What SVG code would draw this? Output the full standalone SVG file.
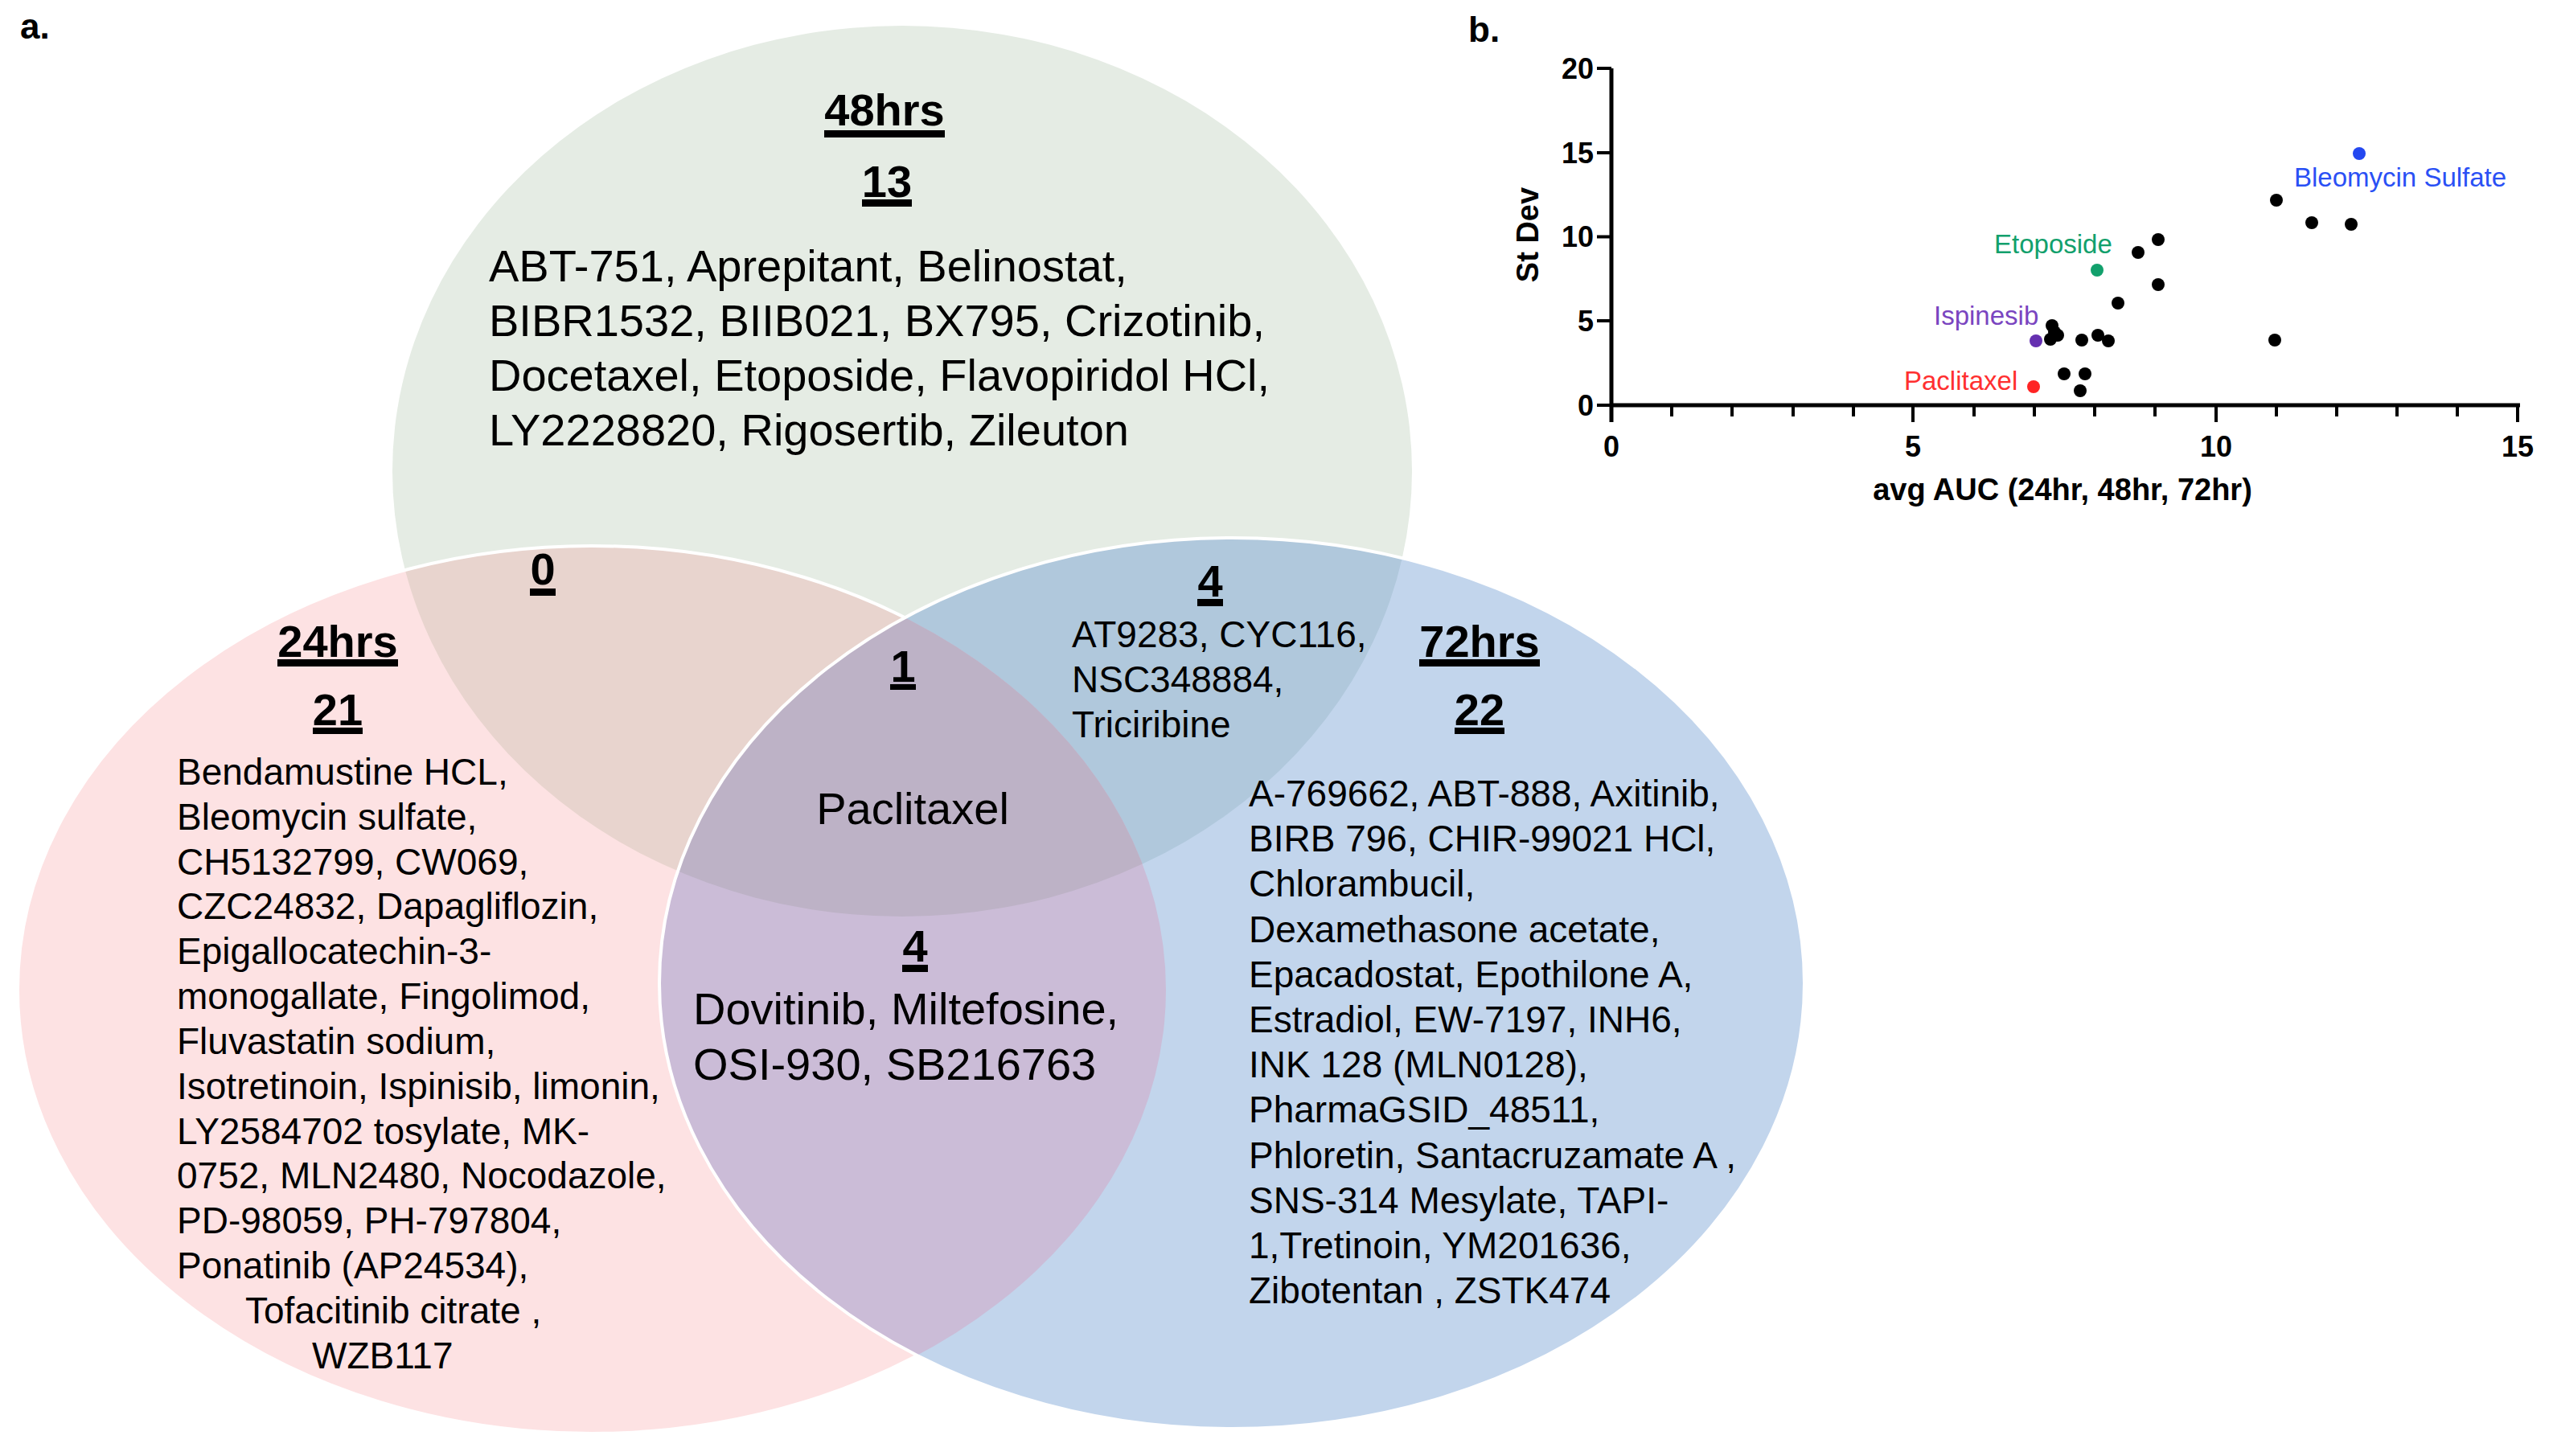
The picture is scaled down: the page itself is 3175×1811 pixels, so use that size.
<svg xmlns="http://www.w3.org/2000/svg" xmlns:xlink="http://www.w3.org/1999/xlink" width="3175" height="1811" viewBox="0 0 3175 1811">
<style>
text{font-family:"Liberation Sans",Arial,sans-serif;fill:#000}
.h{font-size:56px;font-weight:bold;text-anchor:middle}
.big{font-size:56px}
.sm{font-size:46px}
.pl{font-size:44px;font-weight:bold}
.tk{font-size:36px;font-weight:bold}
.ax{font-size:38px;font-weight:bold}
.lb{font-size:33px}
.ul{fill:#000}
.dot{fill:#000}
</style>
<defs>
<ellipse id="eG" cx="1122" cy="586" rx="634" ry="554"/>
<ellipse id="eP" cx="736" cy="1231" rx="714" ry="552"/>
<ellipse id="eB" cx="1532" cy="1223" rx="712" ry="554"/>
<clipPath id="cG"><use xlink:href="#eG"/></clipPath>
<clipPath id="cP"><use xlink:href="#eP"/></clipPath>
</defs>
<rect width="3175" height="1811" fill="#fff"/>
<text class="pl" x="25" y="48">a.</text>

<g id="venn-shapes">
<use xlink:href="#eG" fill="#e5ece4"/>
<use xlink:href="#eP" fill="#fde2e3"/>
<use xlink:href="#eP" fill="#e8d4ce" clip-path="url(#cG)"/>
<use xlink:href="#eP" fill="none" stroke="#fff" stroke-width="4"/>
<use xlink:href="#eB" fill="#c2d5ec"/>
<use xlink:href="#eB" fill="#b0c8dc" clip-path="url(#cG)"/>
<use xlink:href="#eB" fill="#cbbcd7" clip-path="url(#cP)"/>
<g clip-path="url(#cG)"><use xlink:href="#eB" fill="#bdb2c6" clip-path="url(#cP)"/></g>
<use xlink:href="#eB" fill="none" stroke="#fff" stroke-width="4"/>
</g>

<g id="set-48hrs">
<text class="h" x="1100" y="156">48hrs</text>
<rect class="ul" x="1025" y="162" width="150" height="9"/>
<text class="h" x="1103" y="245">13</text>
<rect class="ul" x="1072" y="248" width="62" height="9"/>
<text class="big" x="608" y="350">ABT-751, Aprepitant, Belinostat,</text>
<text class="big" x="608" y="418">BIBR1532, BIIB021, BX795, Crizotinib,</text>
<text class="big" x="608" y="486">Docetaxel, Etoposide, Flavopiridol HCl,</text>
<text class="big" x="608" y="554">LY2228820, Rigosertib, Zileuton</text>
</g>

<g id="set-24-48">
<text class="h" x="675" y="727">0</text>
<rect class="ul" x="659" y="732" width="32" height="9"/>
</g>

<g id="set-all">
<text class="h" x="1123" y="848">1</text>
<rect class="ul" x="1107" y="851" width="32" height="7"/>
<text class="big" x="1135" y="1025" text-anchor="middle">Paclitaxel</text>
</g>

<g id="set-48-72">
<text class="h" x="1505" y="742">4</text>
<rect class="ul" x="1489" y="745" width="32" height="9"/>
<text class="sm" x="1333" y="805">AT9283, CYC116,</text>
<text class="sm" x="1333" y="861">NSC348884,</text>
<text class="sm" x="1333" y="917">Triciribine</text>
</g>

<g id="set-24hrs">
<text class="h" x="420" y="817">24hrs</text>
<rect class="ul" x="345" y="820" width="150" height="9"/>
<text class="h" x="420" y="902">21</text>
<rect class="ul" x="389" y="905" width="62" height="8"/>
<g class="sm">
<text class="sm" x="220" y="976">Bendamustine HCL,</text>
<text class="sm" x="220" y="1032">Bleomycin sulfate,</text>
<text class="sm" x="220" y="1088">CH5132799, CW069,</text>
<text class="sm" x="220" y="1143">CZC24832, Dapagliflozin,</text>
<text class="sm" x="220" y="1199">Epigallocatechin-3-</text>
<text class="sm" x="220" y="1255">monogallate, Fingolimod,</text>
<text class="sm" x="220" y="1311">Fluvastatin sodium,</text>
<text class="sm" x="220" y="1367">Isotretinoin, Ispinisib, limonin,</text>
<text class="sm" x="220" y="1423">LY2584702 tosylate, MK-</text>
<text class="sm" x="220" y="1478">0752, MLN2480, Nocodazole,</text>
<text class="sm" x="220" y="1534">PD-98059, PH-797804,</text>
<text class="sm" x="220" y="1590">Ponatinib (AP24534),</text>
<text class="sm" x="305" y="1646">Tofacitinib citrate ,</text>
<text class="sm" x="388" y="1702">WZB117</text>
</g>
</g>

<g id="set-24-72">
<text class="h" x="1138" y="1196">4</text>
<rect class="ul" x="1122" y="1200" width="32" height="9"/>
<text class="big" x="862" y="1274">Dovitinib, Miltefosine,</text>
<text class="big" x="862" y="1343">OSI-930, SB216763</text>
</g>

<g id="set-72hrs">
<text class="h" x="1840" y="817">72hrs</text>
<rect class="ul" x="1765" y="820" width="150" height="9"/>
<text class="h" x="1840" y="902">22</text>
<rect class="ul" x="1809" y="905" width="62" height="8"/>
<text class="sm" x="1553" y="1003">A-769662, ABT-888, Axitinib,</text>
<text class="sm" x="1553" y="1059">BIRB 796, CHIR-99021 HCl,</text>
<text class="sm" x="1553" y="1115">Chlorambucil,</text>
<text class="sm" x="1553" y="1172">Dexamethasone acetate,</text>
<text class="sm" x="1553" y="1228">Epacadostat, Epothilone A,</text>
<text class="sm" x="1553" y="1284">Estradiol, EW-7197, INH6,</text>
<text class="sm" x="1553" y="1340">INK 128 (MLN0128),</text>
<text class="sm" x="1553" y="1396">PharmaGSID_48511,</text>
<text class="sm" x="1553" y="1453">Phloretin, Santacruzamate A ,</text>
<text class="sm" x="1553" y="1509">SNS-314 Mesylate, TAPI-</text>
<text class="sm" x="1553" y="1565">1,Tretinoin, YM201636,</text>
<text class="sm" x="1553" y="1621">Zibotentan , ZSTK474</text>
</g>

<g id="plot-b">
<text class="pl" x="1826" y="52">b.</text>
<g id="axes" stroke="#000" stroke-width="4" fill="none">
<line x1="2004" y1="85" x2="2004" y2="525" stroke-width="5"/>
<line x1="2002" y1="504" x2="3134" y2="504" stroke-width="5"/>
<line x1="1986" y1="85" x2="2004" y2="85"/>
<line x1="1986" y1="190" x2="2004" y2="190"/>
<line x1="1986" y1="294.5" x2="2004" y2="294.5"/>
<line x1="1986" y1="399" x2="2004" y2="399"/>
<line x1="1986" y1="504" x2="2004" y2="504"/>
<line x1="2379" y1="504" x2="2379" y2="525"/>
<line x1="2756" y1="504" x2="2756" y2="525"/>
<line x1="3131" y1="504" x2="3131" y2="525"/>
<line x1="2079" y1="504" x2="2079" y2="518"/>
<line x1="2154" y1="504" x2="2154" y2="518"/>
<line x1="2230" y1="504" x2="2230" y2="518"/>
<line x1="2305" y1="504" x2="2305" y2="518"/>
<line x1="2455" y1="504" x2="2455" y2="518"/>
<line x1="2530" y1="504" x2="2530" y2="518"/>
<line x1="2605" y1="504" x2="2605" y2="518"/>
<line x1="2680" y1="504" x2="2680" y2="518"/>
<line x1="2831" y1="504" x2="2831" y2="518"/>
<line x1="2906" y1="504" x2="2906" y2="518"/>
<line x1="2981" y1="504" x2="2981" y2="518"/>
<line x1="3056" y1="504" x2="3056" y2="518"/>
</g>
<g class="tk">
<text class="tk" x="1982" y="98" text-anchor="end">20</text>
<text class="tk" x="1982" y="203" text-anchor="end">15</text>
<text class="tk" x="1982" y="307" text-anchor="end">10</text>
<text class="tk" x="1982" y="412" text-anchor="end">5</text>
<text class="tk" x="1982" y="517" text-anchor="end">0</text>
<text class="tk" x="2004" y="568" text-anchor="middle">0</text>
<text class="tk" x="2379" y="568" text-anchor="middle">5</text>
<text class="tk" x="2756" y="568" text-anchor="middle">10</text>
<text class="tk" x="3131" y="568" text-anchor="middle">15</text>
</g>
<text class="ax" x="2565" y="622" text-anchor="middle">avg AUC (24hr, 48hr, 72hr)</text>
<text class="ax" transform="translate(1913,292) rotate(-90)" text-anchor="middle">St Dev</text>
<g id="points">
<circle class="dot" cx="2831" cy="249" r="8"/>
<circle class="dot" cx="2875" cy="277" r="8"/>
<circle class="dot" cx="2924" cy="279" r="8"/>
<circle class="dot" cx="2684" cy="298" r="8"/>
<circle class="dot" cx="2659" cy="314" r="8"/>
<circle class="dot" cx="2684" cy="354" r="8"/>
<circle class="dot" cx="2634" cy="377" r="8"/>
<circle class="dot" cx="2552" cy="405" r="8"/>
<circle class="dot" cx="2555" cy="413" r="8"/>
<circle class="dot" cx="2559" cy="417" r="8"/>
<circle class="dot" cx="2550" cy="422" r="8"/>
<circle class="dot" cx="2589" cy="423" r="8"/>
<circle class="dot" cx="2609" cy="417" r="8"/>
<circle class="dot" cx="2622" cy="424" r="8"/>
<circle class="dot" cx="2829" cy="423" r="8"/>
<circle class="dot" cx="2567" cy="465" r="8"/>
<circle class="dot" cx="2593" cy="465" r="8"/>
<circle class="dot" cx="2587" cy="486" r="8"/>
<circle cx="2934" cy="191" r="8" fill="#2448f0"/>
<circle cx="2608" cy="336" r="8" fill="#12a06c"/>
<circle cx="2532" cy="424" r="8" fill="#6530b0"/>
<circle cx="2529" cy="481" r="8" fill="#ff2424"/>
</g>
<text class="lb" x="2853" y="232" style="fill:#2a50f5">Bleomycin Sulfate</text>
<text class="lb" x="2480" y="315" style="fill:#12a06c">Etoposide</text>
<text class="lb" x="2405" y="404" style="fill:#7a45c0">Ispinesib</text>
<text class="lb" x="2368" y="485" style="fill:#ff3030">Paclitaxel</text>
</g>
</svg>
